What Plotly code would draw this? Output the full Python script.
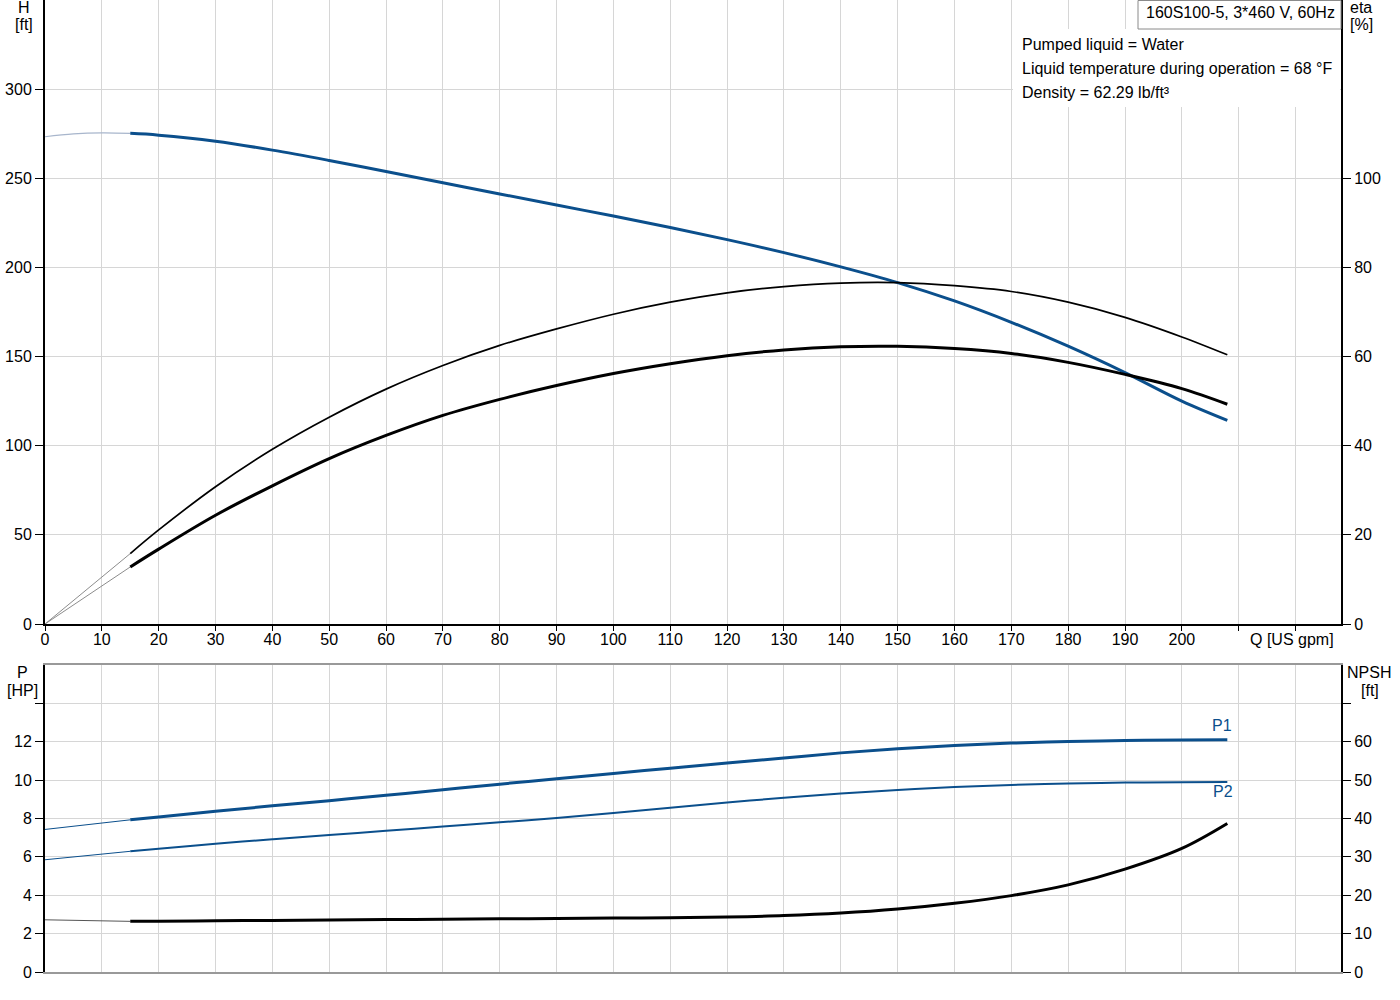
import plotly.graph_objects as go

# ---------------- data ----------------
q = [15, 20, 30, 40, 50, 60, 70, 80, 90, 100, 110, 120, 130, 140, 150, 160, 170, 180, 190, 200, 208]
head_ft = [275.2, 274.2, 270.8, 265.8, 260.0, 253.8, 247.5, 241.2, 235.0, 228.8, 222.4, 215.6,
           208.3, 200.3, 191.5, 181.2, 169.2, 155.8, 141.0, 125.0, 114.2]
eta_pump = [15.8, 21.1, 30.8, 39.2, 46.4, 52.7, 58.0, 62.5, 66.2, 69.5, 72.2, 74.3,
            75.7, 76.5, 76.6, 75.9, 74.6, 72.2, 68.8, 64.4, 60.4]
eta_total = [12.8, 16.8, 24.4, 31.0, 37.1, 42.3, 46.8, 50.4, 53.5, 56.2, 58.4, 60.2,
             61.5, 62.2, 62.3, 61.8, 60.7, 58.7, 56.0, 52.8, 49.3]
p1_hp = [7.93, 8.08, 8.38, 8.66, 8.93, 9.21, 9.50, 9.79, 10.07, 10.35, 10.62, 10.89,
         11.15, 11.42, 11.64, 11.81, 11.93, 12.01, 12.06, 12.09, 12.10]
p2_hp = [6.29, 6.42, 6.68, 6.92, 7.14, 7.36, 7.58, 7.80, 8.03, 8.29, 8.56, 8.83,
         9.08, 9.30, 9.49, 9.64, 9.75, 9.82, 9.87, 9.89, 9.90]
npsh_ft = [13.2, 13.25, 13.35, 13.45, 13.55, 13.65, 13.75, 13.85, 13.95, 14.05, 14.15, 14.35,
           14.7, 15.35, 16.4, 17.9, 19.9, 22.7, 26.8, 32.2, 38.7]

# extrapolated (thin) parts below minimum flow
q_ext = [0, 5, 10, 15]
head_ext = [273.3, 274.9, 275.5, 275.2]
q_ext2 = [0, 15]
eta_pump_ext = [0, 15.8]
eta_total_ext = [0, 12.8]
p1_ext = [7.43, 7.93]
p2_ext = [5.85, 6.29]
npsh_ext = [13.6, 13.2]

x_ticks = list(range(0, 230, 10))
x_label_vals = list(range(0, 210, 10))
h_ticks = [0, 50, 100, 150, 200, 250, 300]
eta_ticks = [0, 20, 40, 60, 80, 100]
p_ticks = [0, 2, 4, 6, 8, 10, 12, 14]
p_labels = [str(v) if v <= 12 else "" for v in p_ticks]
npsh_ticks = [0, 10, 20, 30, 40, 50, 60, 70]
npsh_labels = [str(v) if v <= 60 else "" for v in npsh_ticks]

BLUE = "#0b4f8c"
FONT = "Liberation Sans, Arial, sans-serif"
GRID = "#d6d6d6"

# ---------------- geometry helpers (paper coords) ----------------
W, H = 1400, 1000
ML, MR, MT, MB = 45, 59, 0, 28
PW, PH = W - ML - MR, H - MT - MB


def px(x):
    return (x - ML) / PW


def py(y):
    return (PH - (y - MT)) / PH


fig = go.Figure()

# top panel
fig.add_trace(go.Scatter(x=q_ext, y=head_ext, mode="lines", line=dict(color="#a8b6cc", width=1.2, shape="spline"),
                         xaxis="x", yaxis="y", hoverinfo="skip"))
fig.add_trace(go.Scatter(x=q, y=head_ft, mode="lines", line=dict(color=BLUE, width=3, shape="spline"),
                         xaxis="x", yaxis="y", name="H"))
fig.add_trace(go.Scatter(x=q_ext2, y=eta_pump_ext, mode="lines", line=dict(color="#8c8c8c", width=1),
                         xaxis="x", yaxis="y2", hoverinfo="skip"))
fig.add_trace(go.Scatter(x=q_ext2, y=eta_total_ext, mode="lines", line=dict(color="#8c8c8c", width=1),
                         xaxis="x", yaxis="y2", hoverinfo="skip"))
fig.add_trace(go.Scatter(x=q, y=eta_pump, mode="lines", line=dict(color="black", width=1.7, shape="spline"),
                         xaxis="x", yaxis="y2", name="eta"))
fig.add_trace(go.Scatter(x=q, y=eta_total, mode="lines", line=dict(color="black", width=3, shape="spline"),
                         xaxis="x", yaxis="y2", name="eta total"))

# bottom panel
fig.add_trace(go.Scatter(x=q_ext2, y=p1_ext, mode="lines", line=dict(color=BLUE, width=1),
                         xaxis="x2", yaxis="y3", hoverinfo="skip"))
fig.add_trace(go.Scatter(x=q_ext2, y=p2_ext, mode="lines", line=dict(color=BLUE, width=1),
                         xaxis="x2", yaxis="y3", hoverinfo="skip"))
fig.add_trace(go.Scatter(x=q, y=p1_hp, mode="lines", line=dict(color=BLUE, width=3, shape="spline"),
                         xaxis="x2", yaxis="y3", name="P1"))
fig.add_trace(go.Scatter(x=q, y=p2_hp, mode="lines", line=dict(color=BLUE, width=2, shape="spline"),
                         xaxis="x2", yaxis="y3", name="P2"))
fig.add_trace(go.Scatter(x=q_ext2, y=npsh_ext, mode="lines", line=dict(color="#555555", width=1),
                         xaxis="x2", yaxis="y4", hoverinfo="skip"))
fig.add_trace(go.Scatter(x=q, y=npsh_ft, mode="lines", line=dict(color="black", width=3, shape="spline"),
                         xaxis="x2", yaxis="y4", name="NPSH"))

top_dom = [py(624), 1.0]
bot_dom = [0.0, py(665)]
tickfont = dict(family=FONT, size=16, color="black")

fig.update_layout(
    width=W, height=H,
    margin=dict(l=ML, r=MR, t=MT, b=MB),
    paper_bgcolor="white", plot_bgcolor="white",
    showlegend=False,
    font=dict(family=FONT, size=16, color="black"),
    xaxis=dict(domain=[0, 1], anchor="y", range=[0, 228], tickmode="array", tickvals=x_label_vals,
               showgrid=True, gridcolor=GRID, gridwidth=1, zeroline=False,
               showline=True, linecolor="black", linewidth=2, ticks="",
               minor=dict(tickmode="array", tickvals=x_ticks, ticks="outside", ticklen=5, tickcolor="black",
                          showgrid=True, gridcolor=GRID),
               tickfont=tickfont),
    yaxis=dict(domain=top_dom, anchor="x", range=[0, 350], tickmode="array", tickvals=h_ticks,
               showgrid=True, gridcolor=GRID, zeroline=False,
               showline=True, linecolor="black", linewidth=2, ticks="outside", ticklen=8, tickcolor="black",
               tickfont=tickfont),
    yaxis2=dict(overlaying="y", side="right", anchor="x", range=[0, 140], tickmode="array", tickvals=eta_ticks,
                showgrid=False, zeroline=False,
                showline=True, linecolor="black", linewidth=2, ticks="outside", ticklen=8, tickcolor="black",
                tickfont=tickfont),
    xaxis2=dict(domain=[0, 1], anchor="y3", range=[0, 228], tickmode="array", tickvals=x_ticks,
                showticklabels=False, showgrid=True, gridcolor=GRID, zeroline=False,
                showline=True, linecolor="#999999", linewidth=1.5, mirror=True, ticks=""),
    yaxis3=dict(domain=bot_dom, anchor="x2", range=[0, 16], tickmode="array", tickvals=p_ticks, ticktext=p_labels,
                showgrid=True, gridcolor=GRID, zeroline=False,
                showline=True, linecolor="black", linewidth=2, ticks="outside", ticklen=8, tickcolor="black",
                tickfont=tickfont),
    yaxis4=dict(overlaying="y3", side="right", anchor="x2", range=[0, 80], tickmode="array", tickvals=npsh_ticks,
                ticktext=npsh_labels, showgrid=False, zeroline=False,
                showline=True, linecolor="black", linewidth=2, ticks="outside", ticklen=8, tickcolor="black",
                tickfont=tickfont),
)

# white areas behind info text and title box
fig.add_shape(type="rect", xref="paper", yref="paper", x0=px(1013), x1=px(1340), y0=py(107), y1=py(29),
              fillcolor="white", line=dict(width=0), layer="above")
fig.add_shape(type="rect", xref="paper", yref="paper", x0=px(1138), x1=px(1341), y0=py(29), y1=py(0.5),
              fillcolor="white", line=dict(color="#8a8a8a", width=1), layer="above")


def ann(text, x, y, xanchor="center", color="black", size=16):
    fig.add_annotation(text=text, xref="paper", yref="paper", x=px(x), y=py(y), xanchor=xanchor,
                       yanchor="middle", showarrow=False, font=dict(family=FONT, size=size, color=color))


ann("160S100-5, 3*460 V, 60Hz", 1144, 12, xanchor="left")
ann("Pumped liquid = Water", 1020, 44, xanchor="left")
ann("Liquid temperature during operation = 68 °F", 1020, 68, xanchor="left")
ann("Density = 62.29 lb/ft³", 1020, 92, xanchor="left")

ann("H", 24, 8)
ann("[ft]", 24, 25)
ann("eta", 1361, 8)
ann("[%]", 1361, 25)
ann("P", 22, 672)
ann("[HP]", 22, 690)
ann("NPSH", 1369, 672)
ann("[ft]", 1370, 690)
ann("Q [US gpm]", 1292, 639)
ann("P1", 1222, 725, color=BLUE)
ann("P2", 1223, 791, color=BLUE)

fig.write_html("out.html")
